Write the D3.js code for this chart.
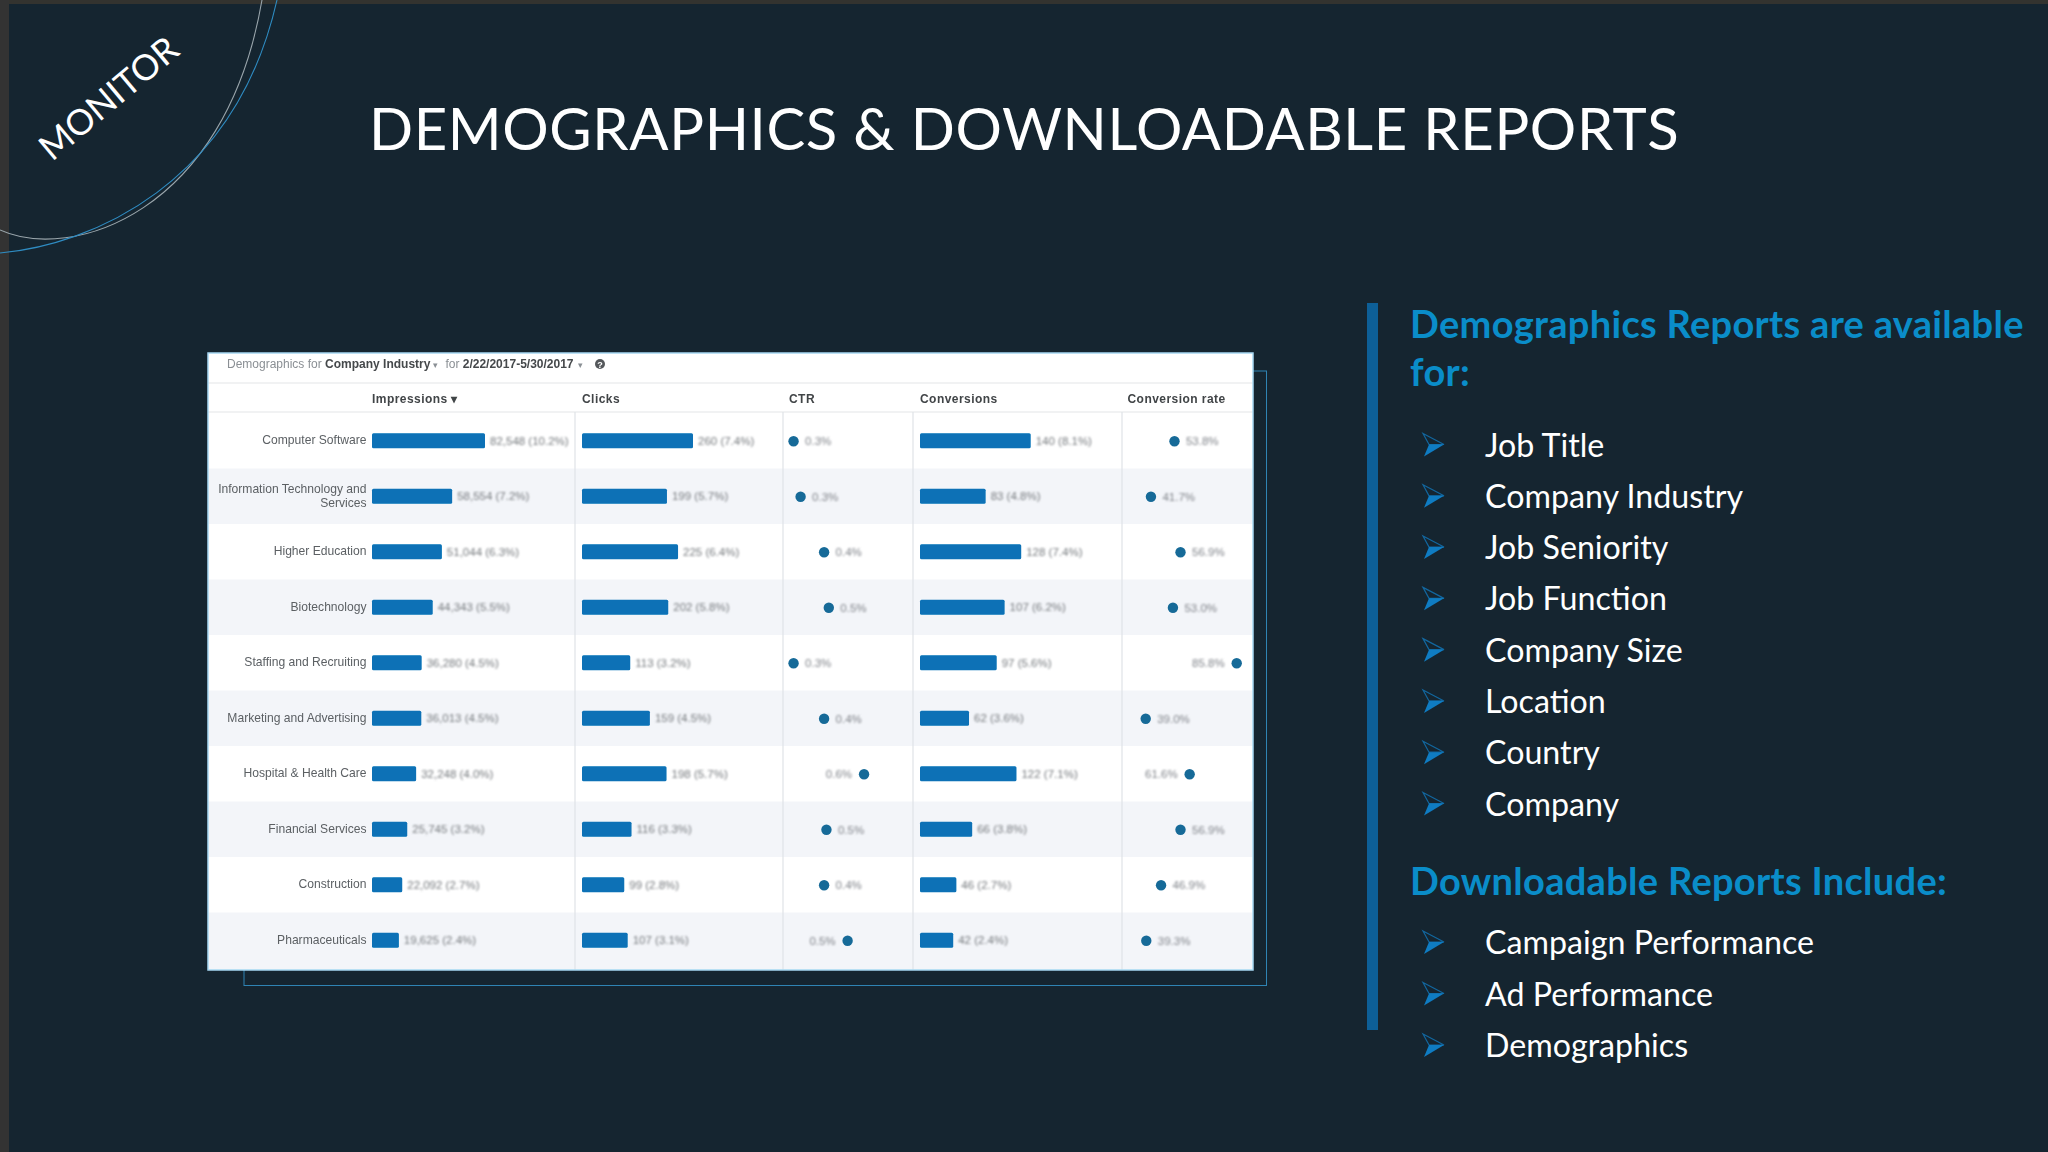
<!DOCTYPE html>
<html>
<head>
<meta charset="utf-8">
<style>
    html, body { margin: 0; padding: 0; background: #152530; overflow: hidden; }
    svg { display: block; }
</style>
<script src="https://cdn.jsdelivr.net/npm/d3@7/dist/d3.min.js"></script>
</head>
<body>
<svg id="slide" width="2048" height="1152"></svg>
<script>
const slideTitle = "DEMOGRAPHICS & DOWNLOADABLE REPORTS";
const cornerLabel = "MONITOR";

const categories = [
    "Computer Software", "Information Technology and Services", "Higher Education", "Biotechnology",
    "Staffing and Recruiting", "Marketing and Advertising", "Hospital & Health Care",
    "Financial Services", "Construction", "Pharmaceuticals"
];
const impressions = [82548, 58554, 51044, 44343, 36280, 36013, 32248, 25745, 22092, 19625];
const impressionShare = [10.2, 7.2, 6.3, 5.5, 4.5, 4.5, 4.0, 3.2, 2.7, 2.4];
const clicks = [260, 199, 225, 202, 113, 159, 198, 116, 99, 107];
const clickShare = [7.4, 5.7, 6.4, 5.8, 3.2, 4.5, 5.7, 3.3, 2.8, 3.1];
const ctr = [0.31, 0.34, 0.44, 0.46, 0.31, 0.44, 0.61, 0.45, 0.44, 0.54];
const ctrLabelLeftRows = [6, 9];
const conversions = [140, 83, 128, 107, 97, 62, 122, 66, 46, 42];
const conversionShare = [8.1, 4.8, 7.4, 6.2, 5.6, 3.6, 7.1, 3.8, 2.7, 2.4];
const conversionRate = [53.8, 41.7, 56.9, 53.0, 85.8, 39.0, 61.6, 56.9, 46.9, 39.3];
const rateLabelLeftRows = [4, 6];

const availableHeading = ["Demographics Reports are available", "for:"];
const availableItems = ["Job Title", "Company Industry", "Job Seniority", "Job Function", "Company Size", "Location", "Country", "Company"];
const downloadHeading = "Downloadable Reports Include:";
const downloadItems = ["Campaign Performance", "Ad Performance", "Demographics"];

const BACKGROUND = "#152530";
const BAR_COLOR = "#0871b6";
const DOT_COLOR = "#166a98";
const HEADING_COLOR = "#0a8dc9";
const SLIDE_FONT = "Lato, sans-serif";
const TABLE_FONT = "'Liberation Sans', Arial, sans-serif";

const svg = d3.select("#slide");
const defs = svg.append("defs");
defs.append("filter").attr("id", "edge").append("feGaussianBlur").attr("stdDeviation", 0.45);
defs.append("filter").attr("id", "soft").append("feGaussianBlur").attr("stdDeviation", 0.7);
defs.append("filter").attr("id", "softer").append("feGaussianBlur").attr("stdDeviation", 0.9);

// slide frame
svg.append("rect").attr("width", 2048).attr("height", 1152).attr("fill", BACKGROUND);
svg.append("rect").attr("width", 2048).attr("height", 4).attr("fill", "#33332f");
svg.append("rect").attr("width", 9).attr("height", 1152).attr("fill", "#333333");

// corner arcs
const grayArc = d3.path();
grayArc.moveTo(0, 230);
grayArc.bezierCurveTo(70, 262, 225, 215, 262, 0);
const blueArc = d3.path();
blueArc.moveTo(0, 253);
blueArc.bezierCurveTo(90, 245, 235, 185, 277, 0);
svg.append("path").attr("d", grayArc.toString()).attr("fill", "none").attr("stroke", "#9aa6ac").attr("stroke-width", 1.1);
svg.append("path").attr("d", blueArc.toString()).attr("fill", "none").attr("stroke", "#2f8cc2").attr("stroke-width", 1.1);

svg.append("text")
    .attr("transform", "translate(52,162) rotate(-40)")
    .attr("font-family", SLIDE_FONT)
    .attr("font-size", 35.5)
    .attr("fill", "#ffffff")
    .text(cornerLabel);

svg.append("text")
    .attr("x", 369)
    .attr("y", 150)
    .attr("font-family", SLIDE_FONT)
    .attr("font-size", 58)
    .attr("letter-spacing", 0.62)
    .attr("fill", "#ffffff")
    .text(slideTitle);

// table panel
const tableLeft = 208;
const tableRight = 1253;
const tableTop = 353;
const tableBottom = 970;

svg.append("rect")
    .attr("x", 244).attr("y", 371)
    .attr("width", 1266.5 - 244).attr("height", 985.5 - 371)
    .attr("fill", "none").attr("stroke", "#2f84b4").attr("stroke-width", 1);

svg.append("rect")
    .attr("x", tableLeft).attr("y", tableTop)
    .attr("width", tableRight - tableLeft).attr("height", tableBottom - tableTop)
    .attr("fill", "#ffffff");

const rowY = d3.scaleBand().domain(d3.range(categories.length)).range([413, 968]);
const rowCenter = (i) => rowY(i) + rowY.bandwidth() / 2;

const table = svg.append("g");

table.selectAll("rect.band")
    .data(d3.range(categories.length).filter((i) => i % 2 === 1))
    .join("rect")
    .attr("class", "band")
    .attr("x", tableLeft)
    .attr("y", (i) => rowY(i))
    .attr("width", tableRight - tableLeft)
    .attr("height", (i) => i === categories.length - 1 ? tableBottom - rowY(i) : rowY.bandwidth())
    .attr("fill", "#f3f5f9");

table.selectAll("line.rule")
    .data([383, 412])
    .join("line")
    .attr("class", "rule")
    .attr("x1", tableLeft).attr("x2", tableRight)
    .attr("y1", (y) => y).attr("y2", (y) => y)
    .attr("stroke", "#e4e6e8").attr("stroke-width", 1.2);

table.selectAll("line.sep")
    .data([575, 783, 913, 1122])
    .join("line")
    .attr("class", "sep")
    .attr("x1", (x) => x).attr("x2", (x) => x)
    .attr("y1", 412).attr("y2", tableBottom)
    .attr("stroke", "#e0e3e7").attr("stroke-width", 1.2);

const softMarks = table.append("g").attr("filter", "url(#edge)");
const softText = table.append("g").attr("filter", "url(#soft)").attr("font-family", TABLE_FONT);
const fadedText = table.append("g").attr("filter", "url(#softer)").attr("font-family", TABLE_FONT);

// filter line above the header
const filterLine = softText.append("text").attr("x", 227).attr("y", 368).attr("font-size", 12).attr("fill", "#8a8f94");
filterLine.append("tspan").text("Demographics for ");
filterLine.append("tspan").attr("font-weight", 700).attr("fill", "#45484b").text("Company Industry");
filterLine.append("tspan").attr("dx", 3).attr("font-size", 9).text("\u25BE");
filterLine.append("tspan").attr("dx", 7).text("for ");
filterLine.append("tspan").attr("font-weight", 700).attr("fill", "#45484b").text("2/22/2017-5/30/2017");
filterLine.append("tspan").attr("dx", 4).attr("font-size", 9).text("\u25BE");
softText.append("circle").attr("cx", 600).attr("cy", 364).attr("r", 5).attr("fill", "#55595c");
softText.append("text").attr("x", 600).attr("y", 367.5).attr("text-anchor", "middle")
    .attr("font-size", 9).attr("font-weight", 700).attr("fill", "#ffffff").text("?");

const columnHeaders = ["Impressions \u25BE", "Clicks", "CTR", "Conversions", "Conversion rate"];
const headerX = [372, 582, 789, 920, 1127.5];
softText.selectAll("text.header")
    .data(columnHeaders)
    .join("text")
    .attr("class", "header")
    .attr("x", (_, i) => headerX[i])
    .attr("y", 403)
    .attr("font-size", 12)
    .attr("font-weight", 700)
    .attr("letter-spacing", 0.45)
    .attr("fill", "#414447")
    .text((d) => d);

function wrapText(textSelection, maxWidth, lineHeight) {
    const words = textSelection.text().split(/\s+/);
    const x = textSelection.attr("x");
    const y = Number(textSelection.attr("y"));
    const lines = [];
    let line = [];
    textSelection.text(null);
    const tspan = textSelection.append("tspan").attr("x", x);
    words.forEach((word) => {
        line.push(word);
        tspan.text(line.join(" "));
        if (tspan.node().getComputedTextLength() > maxWidth && line.length > 1) {
            line.pop();
            lines.push(line.join(" "));
            line = [word];
        }
    });
    lines.push(line.join(" "));
    tspan.remove();
    const firstY = y - (lines.length - 1) * lineHeight / 2;
    lines.forEach((text, i) => {
        textSelection.append("tspan").attr("x", x).attr("y", firstY + i * lineHeight).text(text);
    });
}

softText.selectAll("text.category")
    .data(categories)
    .join("text")
    .attr("class", "category")
    .attr("x", 366.5)
    .attr("y", (_, i) => rowCenter(i) + 3.5)
    .attr("text-anchor", "end")
    .attr("font-size", 12.1)
    .attr("fill", "#5c6064")
    .text((d) => d)
    .each(function () {
        wrapText(d3.select(this), 155, 14.5);
    });

// bar columns
const barColumns = [
    { values: impressions, share: impressionShare, x: d3.scaleLinear([0, 82548], [372, 485]), format: d3.format(",") },
    { values: clicks, share: clickShare, x: d3.scaleLinear([0, 260], [582, 693]), format: d3.format("d") },
    { values: conversions, share: conversionShare, x: d3.scaleLinear([0, 140], [920, 1030.7]), format: d3.format("d") }
];

barColumns.forEach(({ values, share, x, format }) => {
    softMarks.selectAll(null)
        .data(values)
        .join("rect")
        .attr("x", x(0))
        .attr("y", (_, i) => rowCenter(i) - 7.5)
        .attr("width", (d) => x(d) - x(0))
        .attr("height", 15)
        .attr("rx", 1.5)
        .attr("fill", BAR_COLOR);

    fadedText.selectAll(null)
        .data(values)
        .join("text")
        .attr("x", (d) => x(d) + 5)
        .attr("y", (_, i) => rowCenter(i) + 4)
        .attr("font-size", 11.5)
        .attr("fill", "#767a7e")
        .text((d, i) => `${format(d)} (${share[i].toFixed(1)}%)`);
});

// dot columns
const dotColumns = [
    { values: ctr, x: d3.scaleLinear([0.3, 0.62], [791.2, 866.4]), leftRows: ctrLabelLeftRows, format: (d) => `${d.toFixed(1)}%` },
    { values: conversionRate, x: d3.scaleLinear([39, 85.8], [1145.7, 1236.7]), leftRows: rateLabelLeftRows, format: (d) => `${d.toFixed(1)}%` }
];

dotColumns.forEach(({ values, x, leftRows, format }) => {
    softMarks.selectAll(null)
        .data(values)
        .join("circle")
        .attr("cx", (d) => x(d))
        .attr("cy", (_, i) => rowCenter(i) + 0.5)
        .attr("r", 5.2)
        .attr("fill", DOT_COLOR);

    fadedText.selectAll(null)
        .data(values)
        .join("text")
        .attr("x", (d, i) => x(d) + (leftRows.includes(i) ? -12 : 11.5))
        .attr("y", (_, i) => rowCenter(i) + 4.5)
        .attr("text-anchor", (_, i) => leftRows.includes(i) ? "end" : "start")
        .attr("font-size", 11.5)
        .attr("fill", "#80848a")
        .text(format);
});

svg.append("rect")
    .attr("x", tableLeft).attr("y", tableTop)
    .attr("width", tableRight - tableLeft).attr("height", tableBottom - tableTop)
    .attr("fill", "none").attr("stroke", "#a6d8f2").attr("stroke-width", 1.5);

// right-hand text column
svg.append("rect").attr("x", 1367).attr("y", 303).attr("width", 11).attr("height", 727).attr("fill", "#0d5f97");

const headings = svg.append("g")
    .attr("font-family", SLIDE_FONT)
    .attr("font-weight", 700)
    .attr("font-size", 38)
    .attr("letter-spacing", 0.3)
    .attr("fill", HEADING_COLOR);

headings.selectAll("text.available")
    .data(availableHeading)
    .join("text")
    .attr("class", "available")
    .attr("x", 1410)
    .attr("y", (_, i) => 338 + i * 48)
    .text((d) => d);

headings.append("text").attr("x", 1410).attr("y", 895).text(downloadHeading);

function drawList(items, firstBaseline, lastBaseline) {
    const y = d3.scaleLinear([0, items.length - 1], [firstBaseline, lastBaseline]);

    const rows = svg.append("g")
        .selectAll("g")
        .data(items)
        .join("g")
        .attr("transform", (_, i) => `translate(1423,${y(i)})`);

    const upper = d3.path();
    upper.moveTo(0, -23);
    upper.lineTo(21, -12);
    upper.lineTo(6, -12);
    upper.closePath();

    const lower = d3.path();
    lower.moveTo(6, -12);
    lower.lineTo(21, -12);
    lower.lineTo(1, 0);
    lower.closePath();

    rows.append("path").attr("d", upper.toString()).attr("fill", "none").attr("stroke", "#12679f").attr("stroke-width", 1.2);
    rows.append("path").attr("d", lower.toString()).attr("fill", "#0f7cc2");

    rows.append("text")
        .attr("x", 62)
        .attr("font-family", SLIDE_FONT)
        .attr("font-size", 32.2)
        .attr("fill", "#ffffff")
        .text((d) => d);
}

drawList(availableItems, 456.5, 815.5);
drawList(downloadItems, 954, 1057);
</script>
</body>
</html>
